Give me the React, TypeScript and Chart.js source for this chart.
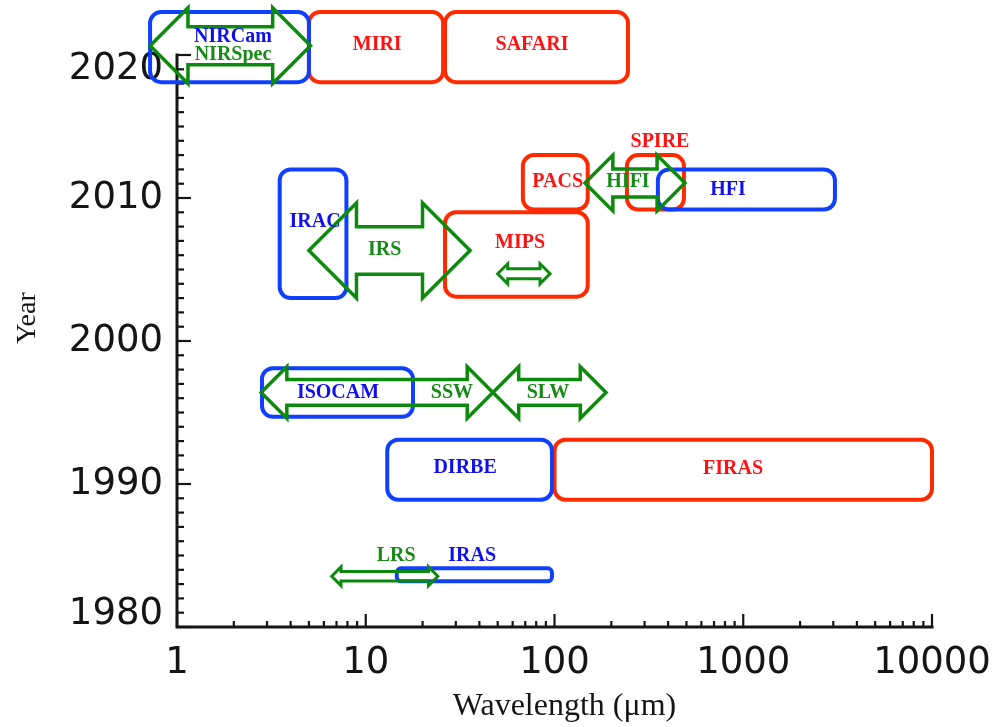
import React, { useEffect, useRef } from 'react';
import { Chart, registerables } from 'chart.js';

Chart.register(...registerables);

// ---------- axis ticks ----------
const waveTicks = [1, 10, 100, 1000, 10000];
const yearTicks = [1980, 1990, 2000, 2010, 2020];

// ---------- instrument boxes (wavelength range in µm, year range) ----------
const boxNames = ['NIRCam', 'MIRI', 'SAFARI', 'IRAC', 'MIPS', 'PACS', 'SPIRE', 'HFI', 'ISOCAM', 'DIRBE', 'FIRAS', 'IRAS'];
const boxGroup = ['B', 'R', 'R', 'B', 'R', 'R', 'R', 'B', 'B', 'B', 'R', 'B'];
const boxMinWave = [0.72, 5.0, 26.3, 3.5, 26.3, 68, 242, 353, 2.82, 13.0, 100, 14.6];
const boxMaxWave = [5.0, 25.7, 245, 7.9, 150, 150, 485, 3060, 17.8, 97, 10000, 97];
const boxStartYear = [2018.1, 2018.1, 2018.1, 2003.0, 2003.1, 2009.2, 2009.2, 2009.2, 1994.7, 1988.9, 1988.9, 1983.2];
const boxEndYear = [2023.0, 2023.0, 2023.0, 2012.0, 2009.0, 2013.0, 2013.0, 2012.0, 1998.1, 1993.1, 1993.1, 1984.1];

// ---------- spectrometer double arrows ----------
const arrowNames = ['NIRSpec', 'IRS', 'MIPS SED', 'HIFI', 'SSW', 'SLW', 'LRS'];
const arrowMinWave = [0.72, 5.0, 50, 145, 2.79, 47.2, 6.6];
const arrowMaxWave = [5.1, 35.7, 94.7, 491, 47.2, 187.5, 24.1];
const arrowLowYear = [2018.0, 2003.0, 2004.0, 2009.1, 1994.6, 1994.6, 1982.9];
const arrowHighYear = [2023.3, 2009.65, 2005.4, 2013.0, 1998.2, 1998.2, 1984.2];

// ---------- text labels ----------
const labelTexts = ['NIRCam', 'NIRSpec', 'MIRI', 'SAFARI', 'IRAC', 'IRS', 'MIPS', 'PACS', 'SPIRE', 'HIFI', 'HFI', 'ISOCAM', 'SSW', 'SLW', 'DIRBE', 'FIRAS', 'LRS', 'IRAS'];
const labelGroup = ['B', 'G', 'R', 'R', 'B', 'G', 'R', 'R', 'R', 'G', 'B', 'B', 'G', 'G', 'B', 'R', 'G', 'B'];
const labelWave = [1.98, 1.98, 11.5, 76, 5.39, 12.6, 65.7, 104, 362, 245, 830, 7.13, 28.6, 92.4, 33.6, 883, 14.5, 36.6];
const labelYear = [2021.3, 2020.0, 2020.7, 2020.7, 2008.3, 2006.4, 2006.85, 2011.1, 2013.9, 2011.1, 2010.55, 1996.4, 1996.4, 1996.4, 1991.1, 1991.05, 1985.0, 1985.0];

// ---------- styles ----------
const LINE_COLORS: Record<string, string> = { R: '#ff2a00', B: '#1040ff', G: '#0b8a0b' };
const TEXT_COLORS: Record<string, string> = { R: '#ff1111', B: '#1010ee', G: '#168a16' };
const AXIS_COLOR = '#151515';
const TICK_FONT = '37px "DejaVu Sans", sans-serif';

function roundRect(ctx: CanvasRenderingContext2D, x0: number, y0: number, x1: number, y1: number, r: number) {
  const l = Math.min(x0, x1), rgt = Math.max(x0, x1), t = Math.min(y0, y1), b = Math.max(y0, y1);
  const rr = Math.min(r, (rgt - l) / 2, (b - t) / 2);
  ctx.beginPath();
  ctx.moveTo(l + rr, t);
  ctx.lineTo(rgt - rr, t);
  ctx.arcTo(rgt, t, rgt, t + rr, rr);
  ctx.lineTo(rgt, b - rr);
  ctx.arcTo(rgt, b, rgt - rr, b, rr);
  ctx.lineTo(l + rr, b);
  ctx.arcTo(l, b, l, b - rr, rr);
  ctx.lineTo(l, t + rr);
  ctx.arcTo(l, t, l + rr, t, rr);
  ctx.closePath();
}

function doubleArrow(ctx: CanvasRenderingContext2D, xa: number, xb: number, yTop: number, yBot: number) {
  const h = Math.abs(yBot - yTop);
  const yc = (yTop + yBot) / 2;
  const hl = Math.min(h * 0.5, Math.abs(xb - xa) / 2.2);
  const s = h * 0.25;
  const t = Math.min(yTop, yBot), b = Math.max(yTop, yBot);
  ctx.beginPath();
  ctx.moveTo(xa, yc);
  ctx.lineTo(xa + hl, t);
  ctx.lineTo(xa + hl, yc - s);
  ctx.lineTo(xb - hl, yc - s);
  ctx.lineTo(xb - hl, t);
  ctx.lineTo(xb, yc);
  ctx.lineTo(xb - hl, b);
  ctx.lineTo(xb - hl, yc + s);
  ctx.lineTo(xa + hl, yc + s);
  ctx.lineTo(xa + hl, b);
  ctx.closePath();
}

const overlayPlugin = {
  id: 'overlay',
  afterDraw(chart: any) {
    const { ctx, chartArea: a } = chart;
    const xs = chart.scales.x;
    const ys = chart.scales.y;
    ctx.save();

    // y tick labels (end labels sit slightly inside the axis span, as in the original)
    ctx.fillStyle = AXIS_COLOR;
    ctx.font = TICK_FONT;
    ctx.textAlign = 'right';
    ctx.textBaseline = 'middle';
    yearTicks.forEach((yr, i) => {
      let py = ys.getPixelForValue(yr);
      if (i === 0) py -= 13;
      if (i === yearTicks.length - 1) py += 14;
      ctx.fillText(String(yr), a.left - 14, py);
    });

    // axis titles
    ctx.textAlign = 'center';
    ctx.font = '32px "Liberation Serif", serif';
    ctx.fillText('Wavelength (μm)', (a.left + a.right) / 2 + 10, 707);
    ctx.save();
    ctx.translate(28, (a.top + a.bottom) / 2 - 23);
    ctx.rotate(-Math.PI / 2);
    ctx.font = '28px "Liberation Serif", serif';
    ctx.fillText('Year', 0, 0);
    ctx.restore();

    // axes lines
    ctx.strokeStyle = AXIS_COLOR;
    ctx.lineWidth = 3;
    ctx.lineCap = 'square';
    ctx.beginPath();
    ctx.moveTo(a.left, a.top);
    ctx.lineTo(a.left, a.bottom);
    ctx.lineTo(a.right, a.bottom);
    ctx.stroke();

    // inward tick marks
    ctx.lineCap = 'butt';
    ctx.lineWidth = 2.2;
    const minW = waveTicks[0], maxW = waveTicks[waveTicks.length - 1];
    for (let dec = minW; dec <= maxW; dec *= 10) {
      for (let m = 1; m <= 9; m++) {
        const v = dec * m;
        if (v > maxW) break;
        const px = xs.getPixelForValue(v);
        const len = m === 1 ? 13 : 6;
        ctx.beginPath();
        ctx.moveTo(px, a.bottom);
        ctx.lineTo(px, a.bottom - len);
        ctx.stroke();
      }
    }
    const y0 = yearTicks[0], y1 = yearTicks[yearTicks.length - 1];
    for (let yr = y0; yr <= y1; yr++) {
      const py = ys.getPixelForValue(yr);
      const len = yr % 10 === 0 ? 14 : 7;
      ctx.beginPath();
      ctx.moveTo(a.left, py);
      ctx.lineTo(a.left + len, py);
      ctx.stroke();
    }

    // boxes: red first, then blue
    ctx.lineJoin = 'round';
    for (const grp of ['R', 'B']) {
      for (let i = 0; i < boxNames.length; i++) {
        if (boxGroup[i] !== grp) continue;
        const xl = xs.getPixelForValue(boxMinWave[i]);
        const xr = xs.getPixelForValue(boxMaxWave[i]);
        const yt = ys.getPixelForValue(boxEndYear[i]);
        const yb = ys.getPixelForValue(boxStartYear[i]);
        const r = Math.min(11, Math.abs(yb - yt) / 3);
        ctx.strokeStyle = LINE_COLORS[grp];
        ctx.lineWidth = 4;
        roundRect(ctx, xl, yt, xr, yb, r);
        ctx.stroke();
      }
    }

    // arrows
    ctx.lineJoin = 'miter';
    ctx.miterLimit = 3;
    ctx.strokeStyle = LINE_COLORS.G;
    for (let i = 0; i < arrowNames.length; i++) {
      const xa = xs.getPixelForValue(arrowMinWave[i]);
      const xb = xs.getPixelForValue(arrowMaxWave[i]);
      const yt = ys.getPixelForValue(arrowHighYear[i]);
      const yb = ys.getPixelForValue(arrowLowYear[i]);
      ctx.lineWidth = Math.abs(yb - yt) < 30 ? 3 : 3.5;
      doubleArrow(ctx, xa, xb, yt, yb);
      ctx.stroke();
    }

    // labels
    ctx.font = 'bold 20px "Liberation Serif", "Times New Roman", serif';
    ctx.textAlign = 'center';
    ctx.textBaseline = 'middle';
    for (let i = 0; i < labelTexts.length; i++) {
      ctx.fillStyle = TEXT_COLORS[labelGroup[i]];
      ctx.fillText(labelTexts[i], xs.getPixelForValue(labelWave[i]), ys.getPixelForValue(labelYear[i]));
    }
    ctx.restore();
  },
};

export default function App() {
  const ref = useRef<HTMLCanvasElement>(null);
  useEffect(() => {
    if (!ref.current) return;
    const tickFont = { family: '"DejaVu Sans", sans-serif', size: 37 };
    const chart = new Chart(ref.current, {
      type: 'scatter',
      data: { datasets: [{ data: [] }] },
      options: {
        animation: false,
        responsive: false,
        devicePixelRatio: 1,
        events: [],
        layout: { padding: { top: 55, right: 63, left: 0, bottom: 0 } },
        plugins: { legend: { display: false }, tooltip: { enabled: false } },
        scales: {
          x: {
            type: 'logarithmic',
            min: waveTicks[0],
            max: waveTicks[waveTicks.length - 1],
            grid: { display: false, drawTicks: false },
            border: { display: false },
            afterBuildTicks: (s: any) => {
              s.ticks = waveTicks.map((v) => ({ value: v }));
            },
            afterFit: (s: any) => {
              s.height = 100;
              s.paddingLeft = 0;
              s.paddingRight = 0;
            },
            ticks: {
              autoSkip: false,
              maxRotation: 0,
              padding: 14,
              color: AXIS_COLOR,
              font: tickFont,
              callback: (v: any) => String(v),
            },
            title: { display: false },
          },
          y: {
            type: 'linear',
            min: yearTicks[0],
            max: yearTicks[yearTicks.length - 1],
            grid: { display: false, drawTicks: false },
            border: { display: false },
            afterBuildTicks: (s: any) => {
              s.ticks = yearTicks.map((v) => ({ value: v }));
            },
            afterFit: (s: any) => {
              s.width = 177;
              s.paddingTop = 0;
              s.paddingBottom = 0;
            },
            ticks: { display: false },
            title: { display: false },
          },
        },
      } as any,
      plugins: [overlayPlugin],
    });
    return () => chart.destroy();
  }, []);
  return (
    <div style={{ position: 'fixed', left: 0, top: 0, width: 995, height: 727, background: '#fff' }}>
      <canvas ref={ref} width={995} height={727} style={{ display: 'block', width: 995, height: 727 }} />
    </div>
  );
}
